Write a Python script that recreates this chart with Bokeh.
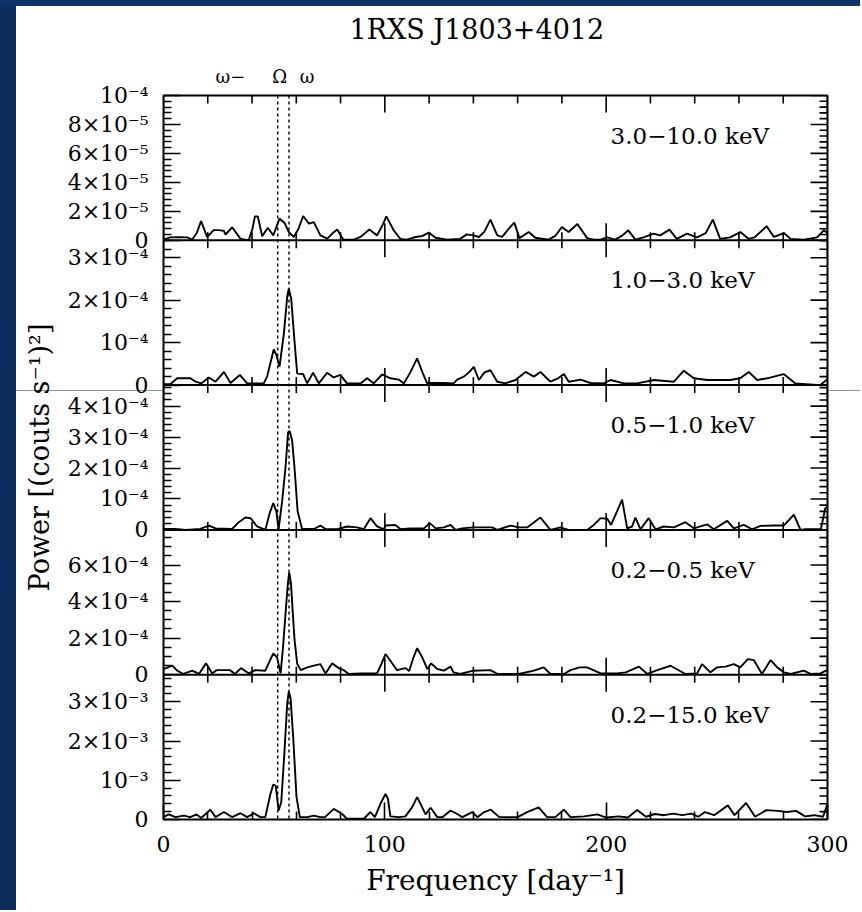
import numpy as np
from bokeh.plotting import figure
from bokeh.models import Range1d, FixedTicker, Span, Label, Title
from bokeh.embed import file_html
from bokeh.resources import INLINE

FONT = "DejaVu Serif"

# ---------------- data ----------------
omega_minus_Omega = 51.6   # day^-1
omega = 56.7               # day^-1

# 3.0-10.0 keV, power in units of 1e-6
f_3_10 = [0, 3, 7, 10.7, 13, 15, 17, 19.7, 22.7, 25, 27.3, 28, 31, 34.8, 38.5, 40.2, 41.3, 42.6, 44.6, 47.1,
          49.6, 52.4, 54.7, 56.6, 58.9, 61, 63.1, 65.7, 67.9, 70.9, 74, 76.5, 78.5, 81.2, 86, 89, 93, 96.5,
          98.8, 100.7, 104, 107, 110, 113.9, 117, 119.9, 122.9, 128, 134, 137, 140, 142.5, 145, 147.7, 150.8,
          153, 156, 158.5, 160.8, 165, 168, 174, 177, 180, 183, 187, 191.4, 194.4, 197.5, 200.5, 204, 207,
          210, 213.2, 216.9, 221.4, 224.4, 228.6, 231.9, 236.5, 241, 245, 248.2, 251.5, 256, 260.6, 264.3,
          267, 272.5, 275.8, 280.3, 283.3, 289.3, 295.3, 298.3, 300]
p_3_10 = [0.5, 2.0, 2.2, 2.0, 0.5, 5, 13.3, 2.3, 7, 7, 6.5, 4, 9, 1, 0, 8, 16.5, 16.5, 2.8, 8.7,
          3.4, 15, 12, 5.7, 2.3, 8, 16.8, 11.5, 12.6, 3.4, 1.1, 5, 7.4, 0.5, 0.5, 2.3, 7.4, 3.4,
          10, 16.5, 6.9, 1, 0.5, 2.3, 3, 5.3, 1.8, 0.5, 1, 4.1, 3.4, 2.3, 6, 14.3, 3.4,
          2.3, 8, 12.2, 1.5, 5.7, 1.8, 0.5, 3, 9.2, 5.7, 11.3, 1.5, 0.5, 0.5, 2, 0.5, 3,
          6.9, 0.5, 2, 4.6, 3.4, 7.4, 1, 4.6, 2, 5, 14.3, 1, 2, 5.7, 1,
          2, 9.7, 2.3, 5, 1, 0.5, 2, 6.9, 5]

# 1.0-3.0 keV, power in units of 1e-4
f_1_3 = [0, 3, 6.2, 9.2, 12.2, 14.5, 17, 20.5, 23.5, 25.5, 27.3, 30.3, 32.5, 34.5, 37.8, 45.3, 46.8, 49.8,
         51, 52.4, 54.4, 55.9, 56.6, 57.7, 58.9, 60.4, 63.1, 64.9, 67.6, 70.2, 73.9, 76.9, 79.9, 82.9, 89,
         92, 95, 98.8, 102.5, 106.3, 108.6, 111.5, 114.6, 117, 119, 126.7, 131, 132.7, 135.7, 138, 140.2,
         142.5, 145, 147.7, 150.8, 154.5, 159, 163.6, 167.3, 170.3, 174.8, 178, 180.9, 183.1, 188.4, 192.9,
         198.9, 202, 208, 214, 221.6, 230.6, 235.1, 239.6, 245.6, 256, 260.6, 264.4, 268.2, 272.7, 280.2,
         285.5, 296.8, 299.8]
p_1_3 = [0.02, 0.02, 0.16, 0.16, 0.16, 0.08, 0.04, 0.18, 0.08, 0.2, 0.31, 0.05, 0.15, 0.24, 0.04, 0.04, 0.2, 0.84,
         0.71, 0.43, 1.22, 2.08, 2.27, 2.04, 1.22, 0.27, 0.26, 0.04, 0.29, 0.04, 0.29, 0.18, 0.24, 0.04, 0.04,
         0.16, 0.04, 0.25, 0.16, 0.13, 0.04, 0.3, 0.63, 0.3, 0.05, 0.05, 0.04, 0.13, 0.2, 0.3, 0.43,
         0.12, 0.3, 0.35, 0.08, 0.04, 0.12, 0.31, 0.2, 0.31, 0.08, 0.15, 0.26, 0.08, 0.13, 0.05,
         0.04, 0.12, 0.04, 0.04, 0.12, 0.08, 0.34, 0.16, 0.12, 0.12, 0.16, 0.31, 0.12, 0.16, 0.26,
         0.04, 0.0, 0.13]

# 0.5-1.0 keV, power in units of 1e-4
f_05_1 = [0, 5, 10, 16.6, 20.5, 23.5, 31, 34, 37, 39.3, 42.3, 46, 48, 49.6, 51, 52, 53.6, 55.1, 56.3, 57,
          58.1, 59.2, 60.6, 62.6, 67.9, 70.9, 73.2, 78.5, 83, 87.5, 90.5, 93.5, 96.5, 99.5, 100.3, 104.8,
          107.1, 111.6, 117.7, 120.3, 123, 126.7, 129.7, 132, 134.9, 140, 148.5, 150.8, 156.9, 160.5, 164.3,
          170.3, 174.8, 179.3, 183, 191.4, 194.4, 197.5, 200.5, 202.2, 204.9, 207.2, 209.5, 211.7, 213.2,
          215.5, 219.2, 222.3, 226, 230.6, 235.8, 239.6, 245.6, 248.6, 254.7, 257.7, 262.2, 265.9, 269.7,
          275.8, 280.2, 284.8, 287.8, 290, 297, 299, 300]
p_05_1 = [0.03, 0.03, 0.0, 0.03, 0.14, 0.05, 0.03, 0.25, 0.4, 0.38, 0.11, 0.0, 0.55, 0.87, 0.6, 0.02, 0.93, 2.0, 3.16, 3.2,
          2.9, 2.0, 0.6, 0.03, 0.03, 0.14, 0.03, 0.02, 0.11, 0.08, 0.02, 0.38, 0.11, 0.02, 0.14, 0.16,
          0.02, 0.05, 0.05, 0.22, 0.05, 0.08, 0.16, 0.0, 0.05, 0.08, 0.08, 0.0, 0.14, 0.08, 0.08,
          0.4, 0.0, 0.08, 0.0, 0.0, 0.16, 0.38, 0.36, 0.16, 0.6, 0.98, 0.05, 0.11, 0.4,
          0.02, 0.38, 0.02, 0.11, 0.08, 0.25, 0.05, 0.18, 0.02, 0.29, 0.05, 0.16, 0.02, 0.13,
          0.14, 0.14, 0.49, 0.0, 0.02, 0.02, 0.7, 0.75]

# 0.2-0.5 keV, power in units of 1e-4
f_02_05 = [0, 4, 6.2, 9, 13, 16, 19.2, 22, 24, 30, 32.3, 35, 38.6, 41.4, 46, 48, 49.6, 51.3, 52.9, 54,
           55.1, 56.2, 56.8, 57.6, 58.3, 59.2, 60.4, 62, 65, 67.9, 70.9, 73.2, 76.2, 79.2, 81.4, 83.7, 89,
           96.5, 98.5, 100.3, 102.5, 105.5, 109.3, 111, 112.8, 114.6, 116.9, 119.2, 120.9, 123.7, 126.7, 129.7,
           131, 134, 140, 147.7, 151, 160.5, 167.3, 171.8, 174.8, 180.9, 183.9, 188, 191.4, 197.5, 204.9,
           208.8, 214.8, 218.6, 223.1, 229.1, 235.8, 241.1, 243.3, 247.1, 250.1, 253.9, 257.7, 260.6, 264,
           266.7, 270.4, 274.3, 277.3, 280.3, 283.3, 289.3, 292.3, 296.8, 299.8]
p_02_05 = [0.3, 0.5, 0.22, 0.04, 0.22, 0.04, 0.62, 0.07, 0.25, 0.25, 0.04, 0.36, 0.07, 0.25, 0.22, 0.76, 1.16, 0.95, 0.07, 1.5,
           3.3, 5.0, 5.6, 5.0, 3.6, 1.9, 0.6, 0.25, 0.4, 0.5, 0.58, 0.07, 0.62, 0.36, 0.25, 0.04, 0.07,
           0.07, 0.6, 1.13, 0.76, 0.25, 0.36, 0.2, 0.9, 1.45, 0.95, 0.31, 0.62, 0.31, 0.22, 0.44,
           0.13, 0.04, 0.22, 0.25, 0.04, 0.04, 0.22, 0.4, 0.04, 0.04, 0.25, 0.4, 0.4, 0.07, 0.07,
           0.13, 0.44, 0.04, 0.25, 0.49, 0.04, 0.07, 0.58, 0.13, 0.4, 0.44, 0.58, 0.4, 0.85,
           0.8, 0.04, 0.8, 0.4, 0.13, 0.04, 0.22, 0.04, 0.07, 0.25]

# 0.2-15.0 keV, power in units of 1e-3
f_02_15 = [0, 2.3, 5.4, 9.2, 12, 15, 17, 21.2, 23.5, 27.3, 31, 34.8, 37.8, 40.8, 43.8, 46, 48.3, 49.6, 50.7,
           52, 53.2, 54.6, 55.9, 56.6, 57.4, 58.6, 60.1, 61.6, 64.9, 67.9, 70.9, 73, 76.9, 80.7, 82.9, 90.5,
           93.5, 95.5, 98, 100.3, 101.4, 102.5, 106.3, 109.3, 112.3, 114.6, 116.9, 118.4, 120.7, 123.7, 126,
           129.7, 132.7, 135, 139.5, 141.8, 144.9, 147.9, 151.7, 156.2, 160, 164.3, 169.5, 173.3, 177, 180.9,
           183.9, 190, 196, 200, 205.7, 209.8, 214, 218, 222, 226.2, 230.3, 234.4, 238.5, 241.6, 244.7,
           248.8, 255, 258, 263.2, 267.3, 272.4, 277.6, 281.7, 285.8, 289.9, 294, 298, 300]
p_02_15 = [0.06, 0.13, 0.06, 0.1, 0.06, 0.13, 0.04, 0.25, 0.06, 0.19, 0.06, 0.16, 0.06, 0.16, 0.06, 0.06, 0.65, 0.89, 0.86,
           0.23, 0.44, 1.68, 2.95, 3.26, 3.1, 2.09, 0.57, 0.06, 0.06, 0.1, 0.06, 0.06, 0.27, 0.14, 0.02, 0.02,
           0.19, 0.06, 0.4, 0.65, 0.53, 0.08, 0.06, 0.08, 0.31, 0.57, 0.31, 0.13, 0.3, 0.06, 0.06,
           0.23, 0.14, 0.06, 0.19, 0.06, 0.19, 0.25, 0.06, 0.06, 0.06, 0.19, 0.31, 0.06, 0.06, 0.25,
           0.06, 0.08, 0.13, 0.05, 0.08, 0.05, 0.24, 0.07, 0.14, 0.11, 0.15, 0.11, 0.15, 0.07, 0.19,
           0.11, 0.36, 0.11, 0.42, 0.07, 0.24, 0.22, 0.19, 0.22, 0.08, 0.11, 0.07, 0.4]

band_labels = ["3.0\u221210.0 keV", "1.0\u22123.0 keV", "0.5\u22121.0 keV", "0.2\u22120.5 keV", "0.2\u221215.0 keV"]
band_freqs = [f_3_10, f_1_3, f_05_1, f_02_05, f_02_15]
band_powers = [p_3_10, p_1_3, p_05_1, p_02_05, p_02_15]
band_units = [1e-6, 1e-4, 1e-4, 1e-4, 1e-3]
band_tops = [1.0e-4, 3.41e-4, 4.68e-4, 7.92e-4, 3.69e-3]
major_ticks = [[0, 2e-5, 4e-5, 6e-5, 8e-5, 1e-4],
               [0, 1e-4, 2e-4, 3e-4],
               [0, 1e-4, 2e-4, 3e-4, 4e-4],
               [0, 2e-4, 4e-4, 6e-4],
               [0, 1e-3, 2e-3, 3e-3]]
major_tick_labels = [["0", "2\u00d710\u207b\u2075", "4\u00d710\u207b\u2075", "6\u00d710\u207b\u2075", "8\u00d710\u207b\u2075", "10\u207b\u2074"],
                     ["0", "10\u207b\u2074", "2\u00d710\u207b\u2074", "3\u00d710\u207b\u2074"],
                     ["0", "10\u207b\u2074", "2\u00d710\u207b\u2074", "3\u00d710\u207b\u2074", "4\u00d710\u207b\u2074"],
                     ["0", "2\u00d710\u207b\u2074", "4\u00d710\u207b\u2074", "6\u00d710\u207b\u2074"],
                     ["0", "10\u207b\u00b3", "2\u00d710\u207b\u00b3", "3\u00d710\u207b\u00b3"]]
minor_steps = [4e-6, 2e-5, 2e-5, 5e-5, 2e-4]
x_major = [0, 100, 200, 300]
x_labels = ["0", "100", "200", "300"]
x_minor_step = 20

# ---------------- figure ----------------
NP = len(band_labels)
p = figure(width=860, height=910,
           min_border_left=163, min_border_right=33, min_border_top=95, min_border_bottom=91,
           x_range=Range1d(0, 300), y_range=Range1d(0, NP),
           output_backend="svg", toolbar_location=None,
           title="1RXS J1803+4012")
p.background_fill_color = "white"
p.border_fill_color = None
# slide background: dark blue strips at the left and top edge, thin grey rule
p.styles = {"background": "linear-gradient(to bottom, #0b3466 6px, rgba(255,255,255,0) 6px), "
                          "linear-gradient(to right, #0a2f5f 16px, rgba(255,255,255,0) 16px), "
                          "linear-gradient(to bottom, rgba(255,255,255,0) 390px, #8796ab 390px, "
                          "#8796ab 391.5px, rgba(255,255,255,0) 391.5px), #ffffff"}
p.outline_line_color = "black"
p.outline_line_width = 2
p.xgrid.visible = False
p.ygrid.visible = False

p.title.align = "left"
p.title.text_font = FONT
p.title.text_font_size = "27px"
p.title.text_font_style = "normal"
p.title.text_color = "black"
p.title.offset = 186
p.title.standoff = 21

p.add_layout(Title(text="\u03c9\u2212\u2003\u2002\u03a9\u2002\u2009\u03c9", align="left", offset=52,
                   text_font=FONT, text_font_size="18px", text_font_style="normal",
                   text_color="black", standoff=17), "above")

x_minor = [v for v in np.arange(0, 300 + 1e-9, x_minor_step) if v not in x_major]

# composite tick positions for the five stacked bands (band k sits in [NP-1-k, NP-k])
y_major_pos, y_minor_pos, y_overrides = [], [], {}
for k in range(NP):
    base = NP - 1 - k
    top = band_tops[k]
    for v, lab in zip(major_ticks[k], major_tick_labels[k]):
        pos = base + v / top
        y_major_pos.append(pos)
        y_overrides[pos] = lab
    step = minor_steps[k]
    for v in np.arange(0, top + 1e-12, step):
        if min(abs(v - m) for m in major_ticks[k]) > step * 0.1:
            y_minor_pos.append(base + v / top)


def style_axis(ax):
    ax.axis_line_color = None
    ax.major_tick_line_color = "black"
    ax.minor_tick_line_color = "black"
    ax.major_tick_line_width = 1.6
    ax.minor_tick_line_width = 1.6
    ax.major_tick_in = 17
    ax.major_tick_out = 0
    ax.minor_tick_in = 8
    ax.minor_tick_out = 0
    ax.major_label_text_font = FONT
    ax.major_label_text_color = "black"
    ax.axis_label_text_font = FONT
    ax.axis_label_text_font_style = "normal"
    ax.axis_label_text_color = "black"


# bottom axis: frequency
xax = p.xaxis[0]
style_axis(xax)
xax.ticker = FixedTicker(ticks=x_major, minor_ticks=x_minor)
xax.major_label_overrides = dict(zip(x_major, x_labels))
xax.major_label_text_font_size = "22px"
xax.major_label_standoff = 16
xax.axis_label = "Frequency [day\u207b\u00b9]"
xax.axis_label_text_font_size = "28px"
xax.axis_label_standoff = 9

# left axis: stacked power scales
yax = p.yaxis[0]
style_axis(yax)
yax.ticker = FixedTicker(ticks=y_major_pos, minor_ticks=y_minor_pos)
yax.major_label_overrides = y_overrides
yax.major_label_text_font_size = "22px"
yax.major_label_standoff = 15
yax.axis_label = "Power [(couts s\u207b\u00b9)\u00b2]"
yax.axis_label_text_font_size = "27px"
yax.axis_label_standoff = 10

# panel boundaries
for b in range(1, NP):
    p.add_layout(Span(location=b, dimension="width", line_color="black", line_width=2))

# tick marks on the top edge, the right edge and across the panel boundaries
# (dash markers centred on the edge; the frame clips the outer half)
xt_maj = [x for b in range(1, NP + 1) for x in x_major]
yt_maj = [b for b in range(1, NP + 1) for x in x_major]
xt_min = [x for b in range(1, NP + 1) for x in x_minor]
yt_min = [b for b in range(1, NP + 1) for x in x_minor]
p.scatter(xt_maj, yt_maj, marker="dash", size=34, angle=np.pi / 2,
          line_color="black", line_width=1.6)
p.scatter(xt_min, yt_min, marker="dash", size=16, angle=np.pi / 2,
          line_color="black", line_width=1.6)
p.scatter([300] * len(y_major_pos), y_major_pos, marker="dash", size=34,
          line_color="black", line_width=1.6)
p.scatter([300] * len(y_minor_pos), y_minor_pos, marker="dash", size=16,
          line_color="black", line_width=1.6)

for k in range(NP):
    top = band_tops[k]
    rname = "p%d" % k
    p.extra_y_ranges[rname] = Range1d(start=-(NP - 1 - k) * top, end=(k + 1) * top)
    ys = [v * band_units[k] for v in band_powers[k]]
    p.line(band_freqs[k], ys, y_range_name=rname, line_color="black", line_width=1.9)
    p.add_layout(Label(x=202, y=NP - k, y_offset=-40, text=band_labels[k],
                       text_font=FONT, text_font_size="23px", text_baseline="middle",
                       text_align="left", text_color="black"))

for loc in (omega_minus_Omega, omega):
    p.add_layout(Span(location=loc, dimension="height", line_color="black",
                      line_width=1.4, line_dash="3 3"))

open("out.html", "w").write(file_html(p, INLINE))
